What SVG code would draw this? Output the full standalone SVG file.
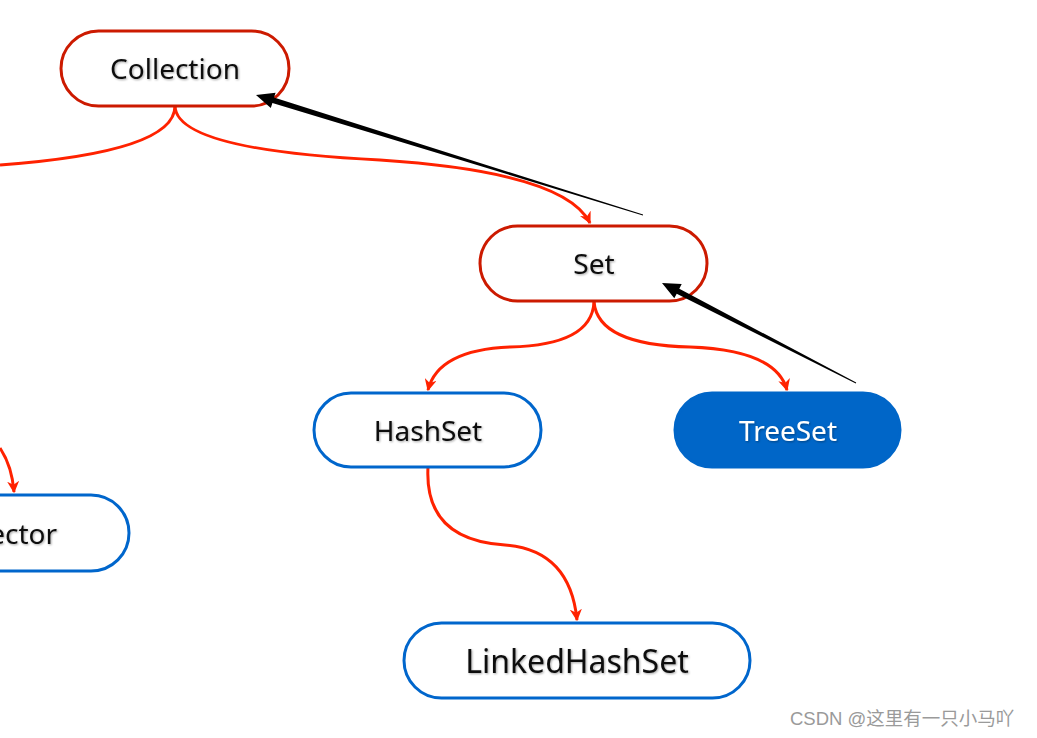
<svg xmlns="http://www.w3.org/2000/svg" width="1037" height="738" viewBox="0 0 1037 738">
<defs>
<marker id="ra" viewBox="0 0 10 10" refX="9" refY="5" markerWidth="4" markerHeight="4" orient="auto" markerUnits="strokeWidth">
<path d="M0,0 L10,5 L0,10 L3,5 Z" fill="#ff2200"/>
</marker>
<filter id="sh" x="-10%" y="-20%" width="120%" height="140%"><feDropShadow dx="1" dy="1" stdDeviation="0.8" flood-color="#000" flood-opacity="0.35"/></filter>
</defs>
<style>
.node-r{fill:#fff;stroke:#cc1a00;stroke-width:3}
.node-b{fill:#fff;stroke:#0066cc;stroke-width:3}
.node-f{fill:#0066c8;stroke:#0066c8;stroke-width:3}
.lbl{font-family:"Noto Sans","DejaVu Sans",sans-serif;font-size:28px;fill:#111;text-anchor:middle;dominant-baseline:central;filter:url(#sh)}
.lblw{fill:#fff}
.con{fill:none;stroke:#ff2200;stroke-width:3;marker-end:url(#ra)}
.con0{fill:none;stroke:#ff2200;stroke-width:3}
.blk{fill:#000}
.wm{font-family:"Liberation Sans","Noto Sans CJK SC",sans-serif;font-size:18.5px;fill:#9a9a9a}
</style>
<rect width="1037" height="738" fill="#fff"/>
<g id="connectors">
<path class="con0" d="M175,106 Q175,152 0,165"/>
<path class="con" d="M175,106 Q176,150 380,160 Q565,172 590,223"/>
<path class="con" d="M594,302 Q592,345 510,347 Q438,350 428,390"/>
<path class="con" d="M594,302 Q598,345 690,347 Q776,350 787,390"/>
<path class="con" d="M428,467 Q424,540 505,545 Q570,550 577,620"/>
<path class="con" d="M0,448 Q12,466 14,492"/>
</g>
<g id="collection">
<rect class="node-r" x="61" y="31" width="228" height="75" rx="37.5"/>
<text class="lbl" x="175" y="68">Collection</text>
</g>
<g id="set">
<rect class="node-r" x="480" y="226" width="227" height="75" rx="37.5"/>
<text class="lbl" x="594" y="263">Set</text>
</g>
<g id="hashset">
<rect class="node-b" x="314" y="393" width="227" height="74" rx="37"/>
<text class="lbl" x="428" y="430">HashSet</text>
</g>
<g id="treeset">
<rect class="node-f" x="675" y="393" width="225" height="74" rx="37"/>
<text class="lbl lblw" x="788" y="430">TreeSet</text>
</g>
<g id="linkedhashset">
<rect class="node-b" x="404" y="623" width="346" height="75" rx="37.5"/>
<text class="lbl" x="577" y="660" style="font-size:32px">LinkedHashSet</text>
</g>
<g id="vector">
<rect class="node-b" x="-99" y="495" width="228" height="76" rx="38"/>
<text class="lbl" x="15" y="533">Vector</text>
</g>
<g id="annotations">
<polygon class="blk" points="256,95 275.6,92.7 274,97.6 643.1,214.6 642.9,215.4 272.4,103 270.8,107.9"/>
<polygon class="blk" points="662,283 681.7,284.1 679.3,288.7 856.2,382.6 855.8,383.4 676.7,293.7 674.3,298.3"/>
</g>
<text class="wm" x="790" y="725">CSDN @这里有一只小马吖</text>
</svg>
